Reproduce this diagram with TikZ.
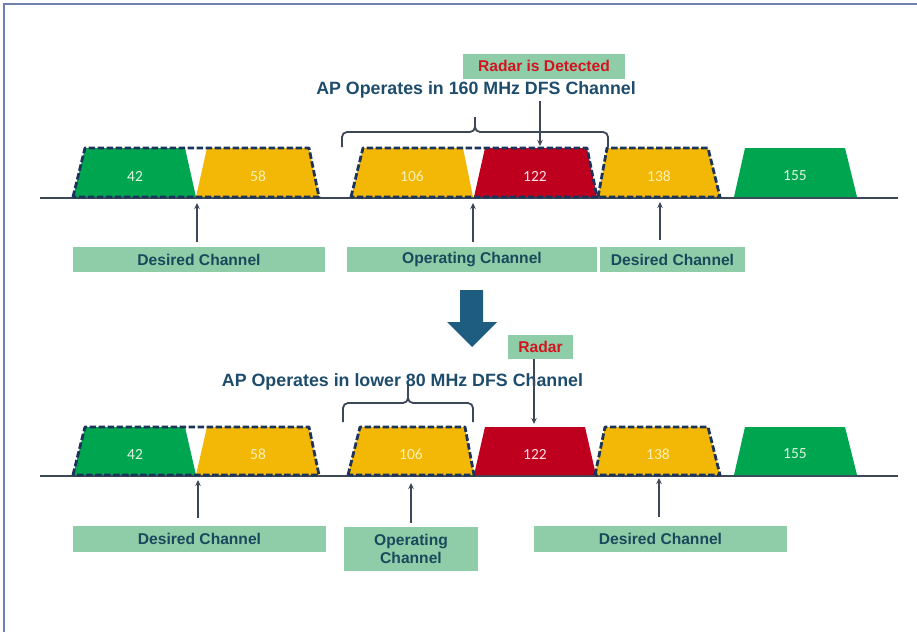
\documentclass[tikz,border=0pt]{standalone}
\usepackage{fontspec}
\setmainfont{Liberation Sans}
\newfontfamily\numfont{Carlito}
\usetikzlibrary{arrows.meta}
\definecolor{chgreen}{RGB}{0,165,80}
\definecolor{chyellow}{RGB}{243,184,6}
\definecolor{chred}{RGB}{190,0,30}
\definecolor{boxfill}{RGB}{142,205,168}
\definecolor{boxtext}{RGB}{26,72,92}
\definecolor{titlecol}{RGB}{30,76,108}
\definecolor{radarred}{RGB}{210,20,30}
\definecolor{dashcol}{RGB}{28,52,90}
\definecolor{basecol}{RGB}{60,72,88}
\definecolor{bigarrow}{RGB}{30,92,128}
\definecolor{framecol}{RGB}{110,128,176}
\definecolor{numgreen}{RGB}{225,245,225}
\definecolor{numyellow}{RGB}{255,240,180}
\definecolor{numred}{RGB}{255,225,230}
\newcommand\chtrap[7]{\fill[#7] (#1,#6) -- (#2,#5) -- (#3,#5) -- (#4,#6) -- cycle;}
\tikzset{
  lblbox/.style={fill=boxfill, text=boxtext, font=\bfseries\fontsize{15.6}{18}\selectfont,
    inner sep=0pt, minimum height=25pt, align=center},
  radarbox/.style={fill=boxfill, text=radarred, font=\bfseries\fontsize{15.6}{18}\selectfont,
    inner sep=0pt, minimum height=25pt},
  titletext/.style={text=titlecol, font=\bfseries\fontsize{17.8}{20}\selectfont, inner sep=0pt},
  numtext/.style={font=\numfont\fontsize{15.5}{17}\selectfont, inner sep=0pt},
  dashout/.style={draw=dashcol, line width=2.8pt, dash pattern=on 6.5pt off 2.5pt, line join=round},
  baseline/.style={draw=basecol, line width=2.5pt},
  ptr/.style={draw=basecol, line width=1.8pt, -{Stealth[length=6pt,width=5.5pt]}},
  bracket/.style={draw=basecol, line width=1.8pt, rounded corners=5pt},
}
\begin{document}
\begin{tikzpicture}[x=1pt,y=-1pt]
\useasboundingbox (0,0) rectangle (917,632);
\fill[white] (0,0) rectangle (917,632);
\draw[framecol, line width=1.5pt] (917,4) -- (4,4) -- (4,632);

% ---------- top row ----------
\node[titletext] (title1) at (476,90) {AP Operates in 160 MHz DFS Channel};
\node[radarbox, minimum width=162pt] (radar1) at (544,66) {Radar is Detected};

\draw[baseline] (40,198) -- (898,198);
\chtrap{73}{85}{185}{196}{148}{197}{chgreen}
\chtrap{196}{207}{309}{319}{148}{197}{chyellow}
\chtrap{351}{363}{463}{473}{148}{197}{chyellow}
\chtrap{474}{485}{587}{597}{148}{197}{chred}
\chtrap{598}{607}{708}{720}{148}{197}{chyellow}
\chtrap{734}{745}{845}{857}{148}{197}{chgreen}
\node[numtext, text=numgreen] (n42a) at (135,176) {42};
\node[numtext, text=numyellow] (n58a) at (258,176) {58};
\node[numtext, text=numyellow] (n106a) at (412,176) {106};
\node[numtext, text=numred] (n122a) at (535,176) {122};
\node[numtext, text=numyellow] (n138a) at (659,176) {138};
\node[numtext, text=numgreen] (n155a) at (795,176) {155};
\draw[dashout] (73,197) -- (85,148) -- (309,148) -- (319,197) -- cycle;
\draw[dashout] (351,197) -- (363,148) -- (587,148) -- (597,197) -- cycle;
\draw[dashout] (598,197) -- (607,148) -- (708,148) -- (720,197) -- cycle;

\draw[bracket] (342,147) -- (342,132) -- (475,132) -- (475,117);
\draw[bracket] (608,147) -- (608,132) -- (475,132) -- (475,117);

\coordinate (r1s) at (540,101);
\coordinate (r1t) at (540,146);
\draw[ptr] (r1s) -- (r1t);

\node[lblbox, minimum width=252pt] (dc1) at (199,259.5) {Desired Channel};
\node[lblbox, minimum width=250pt] (op1) at (472,259.5) {Operating Channel};
\node[lblbox, minimum width=145pt] (dc2) at (672.5,259.5) {Desired Channel};
\coordinate (t1) at (197,203);
\coordinate (t2) at (473,203);
\coordinate (t3) at (660,202);
\draw[ptr, shorten <=5pt] (dc1.north -| t1) -- (t1);
\draw[ptr, shorten <=5pt] (op1.north -| t2) -- (t2);
\draw[ptr, shorten <=7pt] (dc2.north -| t3) -- (t3);

% ---------- big arrow ----------
\fill[bigarrow] (460,290) -- (483,290) -- (483,322) -- (497,322) -- (472,347)
  -- (447,322) -- (460,322) -- cycle;

% ---------- bottom row ----------
\node[titletext] (title2) at (402.5,382) {AP Operates in lower 80 MHz DFS Channel};
\node[radarbox, minimum width=65pt, minimum height=24pt] (radar2) at (540.5,347) {Radar};

\draw[baseline] (40,476) -- (898,476);
\chtrap{73}{85}{185}{196}{427}{475}{chgreen}
\chtrap{196}{207}{309}{319}{427}{475}{chyellow}
\chtrap{348}{360}{465}{474}{427}{475}{chyellow}
\chtrap{474}{485}{585}{596}{427}{475}{chred}
\chtrap{595}{605}{708}{720}{427}{475}{chyellow}
\chtrap{734}{745}{845}{857}{427}{475}{chgreen}
\node[numtext, text=numgreen] (n42b) at (135,454) {42};
\node[numtext, text=numyellow] (n58b) at (258,454) {58};
\node[numtext, text=numyellow] (n106b) at (411,454) {106};
\node[numtext, text=numred] (n122b) at (535,454) {122};
\node[numtext, text=numyellow] (n138b) at (658,454) {138};
\node[numtext, text=numgreen] (n155b) at (795,454) {155};
\draw[dashout] (73,475) -- (85,427) -- (309,427) -- (319,475) -- cycle;
\draw[dashout] (348,475) -- (360,427) -- (465,427) -- (474,475) -- cycle;
\draw[dashout] (595,475) -- (605,427) -- (708,427) -- (720,475) -- cycle;

\draw[bracket] (343,422) -- (343,403) -- (408,403) -- (408,385);
\draw[bracket] (473,422) -- (473,403) -- (408,403) -- (408,385);

\coordinate (r2t) at (534,424);
\draw[ptr] (radar2.south -| r2t) -- (r2t);

\node[lblbox, minimum width=253pt, minimum height=26pt] (dc3) at (199.5,539) {Desired Channel};
\node[lblbox, minimum width=134pt, minimum height=44pt] (op2) at (411,549) {Operating\\Channel};
\node[lblbox, minimum width=253pt, minimum height=26pt] (dc4) at (660.5,539) {Desired Channel};
\coordinate (t4) at (198,480);
\coordinate (t5) at (411,483);
\coordinate (t6) at (659,478);
\draw[ptr, shorten <=8pt] (dc3.north -| t4) -- (t4);
\draw[ptr, shorten <=4pt] (op2.north -| t5) -- (t5);
\draw[ptr, shorten <=9pt] (dc4.north -| t6) -- (t6);
\end{tikzpicture}
\end{document}
